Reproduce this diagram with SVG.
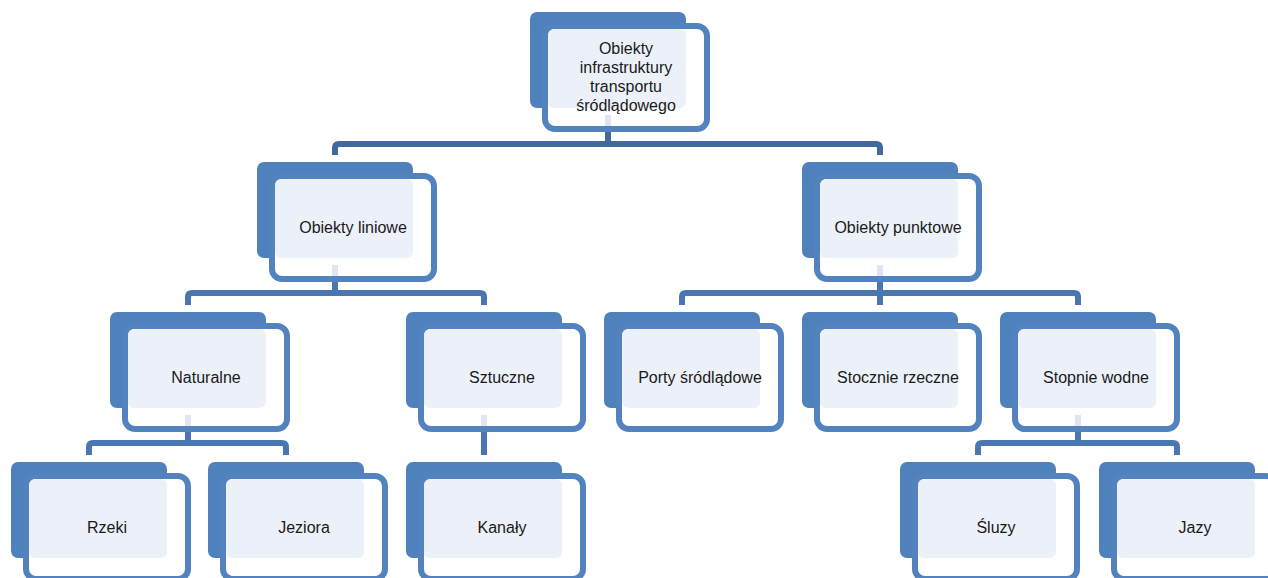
<svg xmlns="http://www.w3.org/2000/svg" width="1268" height="578" viewBox="0 0 1268 578">
<defs>
<style>
.back{fill:#4F81BD}
.front{fill:#FFFFFF;stroke:#5283BF;stroke-width:6}
.light{fill:#ECF1F9}
.lbl{font-family:"Liberation Sans",Arial,sans-serif;font-size:16px;fill:#1A1A1A;text-anchor:middle;dominant-baseline:central}
.con{fill:none;stroke:#4A77B2;stroke-width:6}
.con0{fill:none;stroke:#41699E;stroke-width:6}
.stub{stroke:#DDE6F2;stroke-width:6}
</style>
<g id="nodeshape">
<rect class="back" x="0" y="0" width="156" height="96" rx="7"/>
<rect class="front" x="15" y="14" width="162" height="103" rx="10"/>
<rect class="light" x="18" y="17" width="138" height="79" rx="6"/>
</g>
</defs>
<g id="connectors">
<path class="con0" d="M608 128V144M335 155V148Q335 144 339 144H876Q880 144 880 148V155"/>
<path class="con" d="M335 278V293M188 305V297Q188 293 192 293H480Q484 293 484 297V305"/>
<path class="con" d="M880 278V293M682 305V297Q682 293 686 293H1074Q1078 293 1078 297V305M880 293V305"/>
<path class="con" d="M188 428V443M89 455V447Q89 443 93 443H282Q286 443 286 447V455"/>
<path class="con" d="M484 428V455"/>
<path class="con" d="M1078 428V443M978 455V447Q978 443 982 443H1173Q1177 443 1177 447V455"/>
</g>
<g id="n0"><use href="#nodeshape" x="530" y="12"/><line class="stub" x1="608" y1="115" x2="608" y2="126"/>
<text class="lbl" x="626" y="48">Obiekty</text><text class="lbl" x="626" y="67">infrastruktury</text><text class="lbl" x="626" y="86">transportu</text><text class="lbl" x="626" y="105">śródlądowego</text></g>
<g id="n1"><use href="#nodeshape" x="257" y="162"/><line class="stub" x1="335" y1="265" x2="335" y2="276"/><text class="lbl" x="353" y="227">Obiekty liniowe</text></g>
<g id="n2"><use href="#nodeshape" x="802" y="162"/><line class="stub" x1="880" y1="265" x2="880" y2="276"/><text class="lbl" x="898" y="227">Obiekty punktowe</text></g>
<g id="n3"><use href="#nodeshape" x="110" y="312"/><line class="stub" x1="188" y1="415" x2="188" y2="426"/><text class="lbl" x="206" y="377">Naturalne</text></g>
<g id="n4"><use href="#nodeshape" x="406" y="312"/><line class="stub" x1="484" y1="415" x2="484" y2="426"/><text class="lbl" x="502" y="377">Sztuczne</text></g>
<g id="n5"><use href="#nodeshape" x="604" y="312"/><text class="lbl" x="700" y="377">Porty śródlądowe</text></g>
<g id="n6"><use href="#nodeshape" x="802" y="312"/><text class="lbl" x="898" y="377">Stocznie rzeczne</text></g>
<g id="n7"><use href="#nodeshape" x="1000" y="312"/><line class="stub" x1="1078" y1="415" x2="1078" y2="426"/><text class="lbl" x="1096" y="377">Stopnie wodne</text></g>
<g id="n8"><use href="#nodeshape" x="11" y="462"/><text class="lbl" x="107" y="527">Rzeki</text></g>
<g id="n9"><use href="#nodeshape" x="208" y="462"/><text class="lbl" x="304" y="527">Jeziora</text></g>
<g id="n10"><use href="#nodeshape" x="406" y="462"/><text class="lbl" x="502" y="527">Kanały</text></g>
<g id="n11"><use href="#nodeshape" x="900" y="462"/><text class="lbl" x="996" y="527">Śluzy</text></g>
<g id="n12"><use href="#nodeshape" x="1099" y="462"/><text class="lbl" x="1195" y="527">Jazy</text></g>
</svg>
